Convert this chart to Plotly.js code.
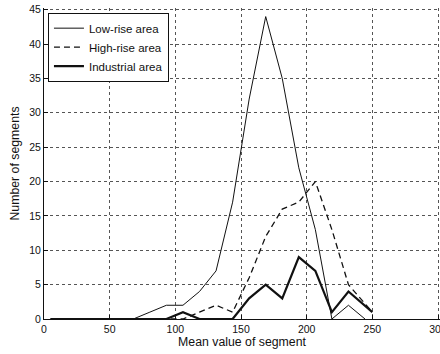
<!DOCTYPE html>
<html>
<head>
<meta charset="utf-8">
<script src="https://cdn.plot.ly/plotly-3.0.1.min.js"></script>
<style>
  html, body { margin: 0; padding: 0; background: #fff; }
  #chart { width: 440px; height: 354px; }
</style>
</head>
<body>
<div id="chart"></div>
<script>
// Bin centres (mean value of segment)
const binCenters = [5, 17.6, 30.2, 42.8, 55.4, 68, 80.6, 93.2, 105.8, 118.4, 131, 143.6, 156.2, 168.8, 181.4, 194, 206.6, 219.2, 231.8, 244.4];
const binCentersHI = [5, 17.6, 30.2, 42.8, 55.4, 68, 80.6, 93.2, 105.8, 118.4, 131, 143.6, 156.2, 168.8, 181.4, 194, 206.6, 219.2, 231.8, 250];

// Number of segments per bin
const lowRise    = [0, 0, 0, 0, 0, 0, 1, 2, 2, 4, 7, 17, 32, 44, 35, 22, 13, 0, 2, 0];
const highRise   = [0, 0, 0, 0, 0, 0, 0, 0, 0, 1, 2, 1, 6, 12, 16, 17, 20, 13, 5, 1];
const industrial = [0, 0, 0, 0, 0, 0, 0, 0, 1, 0, 0, 0, 3, 5, 3, 9, 7, 1, 4, 1];

const seriesNames = ['Low-rise area', 'High-rise area', 'Industrial area'];
const xTicks = [0, 50, 100, 150, 200, 250, 300];
const yTicks = [0, 5, 10, 15, 20, 25, 30, 35, 40, 45];

const FONT = 'Liberation Sans, Arial, Helvetica, sans-serif';
const INK = '#111';

const traces = [
  { x: binCenters, y: lowRise, name: seriesNames[0], mode: 'lines', type: 'scatter',
    line: { color: INK, width: 1 } },
  { x: binCentersHI, y: highRise, name: seriesNames[1], mode: 'lines', type: 'scatter',
    line: { color: INK, width: 1.3, dash: '6px,4px' } },
  { x: binCentersHI, y: industrial, name: seriesNames[2], mode: 'lines', type: 'scatter',
    line: { color: INK, width: 2.2 } }
];

const gridStyle = { showgrid: true, gridcolor: '#555', gridwidth: 1, griddash: 'dot' };

const layout = {
  width: 440, height: 354,
  margin: { l: 44, r: 0, t: 8, b: 35 },
  paper_bgcolor: '#fff', plot_bgcolor: '#fff',
  font: { family: FONT, color: INK, size: 10.5 },
  showlegend: true,
  legend: {
    x: 0.01, y: 0.985, xanchor: 'left', yanchor: 'top',
    bgcolor: '#fff', bordercolor: INK, borderwidth: 1,
    font: { family: FONT, size: 11.5, color: INK },
    itemwidth: 30, tracegroupgap: 0
  },
  xaxis: Object.assign({
    range: [0, 301.5], tickmode: 'array', tickvals: xTicks, ticktext: xTicks.map(String),
    ticks: 'inside', ticklen: 4, tickcolor: INK, ticklabeloverflow: 'allow',
    showline: true, linecolor: INK, linewidth: 1, zeroline: false, mirror: false,
    tickfont: { family: FONT, size: 10.5, color: INK },
    title: { text: 'Mean value of segment', font: { family: FONT, size: 12.3, color: INK }, standoff: 2 }
  }, gridStyle),
  yaxis: Object.assign({
    range: [0, 45.25], tickmode: 'array', tickvals: yTicks, ticktext: yTicks.map(String),
    ticks: 'inside', ticklen: 4, tickcolor: INK, ticklabeloverflow: 'allow',
    showline: true, linecolor: INK, linewidth: 1, zeroline: false, mirror: false,
    tickfont: { family: FONT, size: 10.5, color: INK },
    title: { text: 'Number of segments', font: { family: FONT, size: 12.3, color: INK }, standoff: 6 }
  }, gridStyle)
};

Plotly.newPlot('chart', traces, layout, { displayModeBar: false, staticPlot: true });
</script>
</body>
</html>
